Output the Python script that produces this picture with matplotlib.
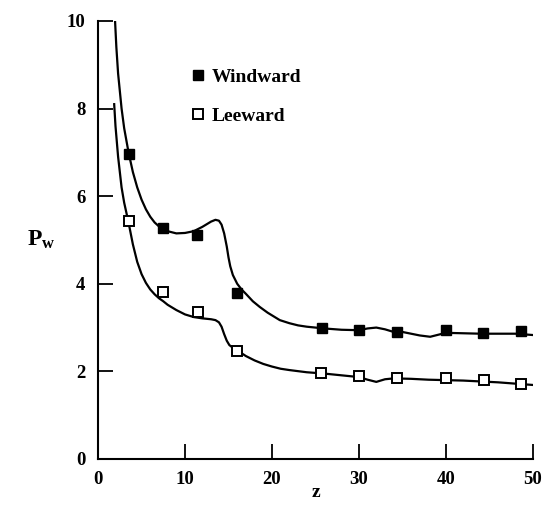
import matplotlib
matplotlib.use("Agg")
import matplotlib.pyplot as plt

plt.rcParams['font.family'] = ['Liberation Serif', 'DejaVu Serif']
plt.rcParams['font.weight'] = 'bold'
plt.rcParams['mathtext.fontset'] = 'custom'
plt.rcParams['mathtext.rm'] = 'Liberation Serif:bold'
plt.rcParams['mathtext.bf'] = 'Liberation Serif:bold'
plt.rcParams['mathtext.it'] = 'Liberation Serif:bold'

# measured points
wind_z = [3.5, 7.5, 11.4, 16.0, 25.7, 30.0, 34.4, 40.0, 44.3, 48.7]
wind_p = [6.96, 5.27, 5.12, 3.8, 3.0, 2.95, 2.9, 2.95, 2.88, 2.92]
lee_z = [3.5, 7.5, 11.5, 16.0, 25.6, 30.0, 34.4, 40.0, 44.4, 48.7]
lee_p = [5.43, 3.82, 3.36, 2.47, 1.97, 1.9, 1.85, 1.85, 1.8, 1.71]

# computed curves
wind_curve_z = [1.95, 2.1, 2.3, 2.7, 3.0, 3.5, 4.0, 4.5, 5.0, 5.5, 6.0, 6.5, 7.0,
                7.5, 8.0, 9.0, 10.0, 11.0, 12.0, 12.5, 13.0, 13.5, 13.9, 14.2,
                14.5, 14.8, 15.0, 15.2, 15.5, 16.0, 16.5, 17.0, 17.8, 18.6, 19.5,
                20.9, 22.0, 23.0, 24.0, 25.0, 26.0, 28.0, 30.0, 31.0, 32.0, 33.0,
                34.0, 35.0, 36.0, 37.0, 38.2, 39.2, 40.0, 42.0, 44.0, 46.0, 48.0, 50.0]
wind_curve_p = [10.0, 9.4, 8.8, 8.0, 7.55, 7.0, 6.55, 6.2, 5.92, 5.7, 5.53, 5.4, 5.31,
                5.25, 5.2, 5.15, 5.16, 5.2, 5.3, 5.36, 5.42, 5.46, 5.44, 5.35,
                5.15, 4.85, 4.6, 4.4, 4.2, 4.0, 3.87, 3.77, 3.6, 3.47, 3.34,
                3.17, 3.1, 3.05, 3.02, 3.0, 2.98, 2.95, 2.94, 2.98, 3.0, 2.96,
                2.9, 2.9, 2.86, 2.82, 2.79, 2.84, 2.88, 2.87, 2.86, 2.86, 2.86, 2.83]
lee_curve_z = [1.85, 2.0, 2.3, 2.7, 3.0, 3.5, 4.0, 4.5, 5.0, 5.5, 6.0, 6.5, 7.0, 7.5,
               8.0, 9.0, 10.0, 11.0, 12.0, 13.0, 13.5, 13.9, 14.2, 14.5, 14.8,
               15.1, 15.5, 16.0, 17.0, 18.0, 19.0, 20.0, 21.0, 22.0, 24.0, 26.0,
               28.0, 30.0, 31.0, 32.0, 33.0, 34.0, 36.0, 38.0, 40.0, 42.0, 44.0,
               46.0, 48.0, 50.0]
lee_curve_p = [8.1, 7.6, 6.9, 6.2, 5.85, 5.4, 4.9, 4.5, 4.22, 4.02, 3.87, 3.76, 3.67, 3.6,
               3.52, 3.4, 3.3, 3.24, 3.21, 3.19, 3.17, 3.12, 3.02, 2.85, 2.7,
               2.6, 2.54, 2.48, 2.35, 2.25, 2.17, 2.11, 2.06, 2.03, 1.98, 1.95,
               1.91, 1.87, 1.81, 1.76, 1.82, 1.84, 1.83, 1.81, 1.8, 1.79, 1.77,
               1.75, 1.72, 1.69]

fig = plt.figure(figsize=(5.42, 5.07), dpi=100)
ax = fig.add_axes([0.181, 0.0947, 0.802, 0.864])

ax.plot(wind_curve_z, wind_curve_p, color="black", lw=1.6, zorder=2,
        solid_joinstyle="round")
ax.plot(lee_curve_z, lee_curve_p, color="black", lw=1.6, zorder=2,
        solid_joinstyle="round")
ax.plot(wind_z, wind_p, ls="none", marker="s", ms=6.5, mfc="black", mec="black",
        label="Windward", zorder=3)
ax.plot(lee_z, lee_p, ls="none", marker="s", ms=7, mfc="white", mec="black",
        mew=1.4, label="Leeward", zorder=3)

ax.set_xlim(0, 50)
ax.set_ylim(0, 10)
ax.set_xticks([0, 10, 20, 30, 40, 50])
ax.set_yticks([0, 2, 4, 6, 8, 10])
ax.spines['top'].set_visible(False)
ax.spines['right'].set_visible(False)
ax.spines['left'].set_linewidth(1.5)
ax.spines['bottom'].set_linewidth(1.5)
ax.tick_params(direction="in", length=11, width=1.3, labelsize=13.5, pad=9)

ax.set_xlabel("z", fontsize=14, fontweight="bold", labelpad=-3)
ax.set_ylabel(r"$\mathbf{P_w}$", fontsize=17, rotation=0, va="center")
ax.yaxis.set_label_coords(-0.13, 0.5)

ax.legend(loc="upper left", bbox_to_anchor=(0.19, 0.91), frameon=False,
          fontsize=14, handletextpad=0.2, labelspacing=1.1, handlelength=1.0,
          borderaxespad=0)

fig.savefig("out.png", dpi=100)
